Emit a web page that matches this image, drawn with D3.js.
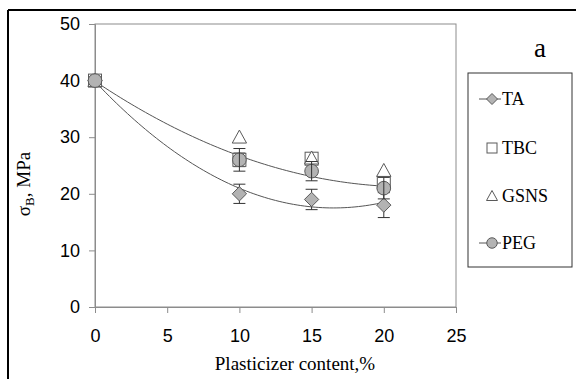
<!DOCTYPE html>
<html>
<head>
<meta charset="utf-8">
<script src="https://cdn.jsdelivr.net/npm/d3@7"></script>
<style>
  body { margin: 0; background: #fff; }
  svg { display: block; }
  .tick text { font-family: "Liberation Sans", Arial, sans-serif; font-size: 18px; fill: #000; }
</style>
</head>
<body>
<svg id="chart" width="576" height="379"></svg>
<script>
// plasticizer content, %
const content = [0, 10, 15, 20];
// tensile strength, MPa
const ta   = [40, 20, 19, 18];
const tbc  = [40, 26, 26.2, 22];
const gsns = [40, 30, 26.3, 24.1];
const peg  = [40, 26, 24, 21];
// error bars (+/-)
const taErr  = [0, 1.7, 1.8, 2.2];
const tbcErr = [0, 1.2, 0, 1];
const pegErr = [0, 2, 1.7, 1.9];
const xTicks = [0, 5, 10, 15, 20, 25];
const yTicks = [0, 10, 20, 30, 40, 50];
const seriesNames = ["TA", "TBC", "GSNS", "PEG"];

const serif = "'Liberation Serif', 'Times New Roman', Times, serif";

const svg = d3.select("#chart"),
      margin = {top: 24, right: 120, bottom: 72, left: 95},
      width = +svg.attr("width") - margin.left - margin.right,
      height = +svg.attr("height") - margin.top - margin.bottom;

const x = d3.scaleLinear().domain([0, 25]).range([0, width]),
      y = d3.scaleLinear().domain([0, 50]).range([height, 0]);

const stroke = "#5a5a5a", fill = "#b3b3b3", axisCol = "#8c8c8c";

// outer frame (top and left edges show)
svg.append("line").attr("x1", 8).attr("x2", 576).attr("y1", 10).attr("y2", 10)
   .attr("stroke", "#000").attr("stroke-width", 2);
svg.append("line").attr("x1", 8).attr("x2", 8).attr("y1", 10).attr("y2", 379)
   .attr("stroke", "#000").attr("stroke-width", 2);

const g = svg.append("g").attr("transform", `translate(${margin.left},${margin.top})`);

// plot box
g.append("rect").attr("width", width).attr("height", height)
 .attr("fill", "none").attr("stroke", axisCol).attr("stroke-width", 1);

const xAxis = g.append("g").attr("transform", `translate(0,${height})`)
  .call(d3.axisBottom(x).tickValues(xTicks).tickSize(6).tickPadding(16));
const yAxis = g.append("g")
  .call(d3.axisLeft(y).tickValues(yTicks).tickSize(6).tickPadding(9));
[xAxis, yAxis].forEach(a => {
  a.select(".domain").attr("stroke", axisCol);
  a.selectAll(".tick line").attr("stroke", axisCol);
});

// quadratic least-squares trend line from the data
function quadFit(xs, ys) {
  let s = [0, 0, 0, 0, 0], t = [0, 0, 0];
  xs.forEach((xv, i) => {
    for (let k = 0; k < 5; k++) s[k] += Math.pow(xv, k);
    for (let k = 0; k < 3; k++) t[k] += Math.pow(xv, k) * ys[i];
  });
  const M = [[s[0], s[1], s[2], t[0]], [s[1], s[2], s[3], t[1]], [s[2], s[3], s[4], t[2]]];
  for (let i = 0; i < 3; i++) {
    for (let j = i + 1; j < 3; j++) {
      const f = M[j][i] / M[i][i];
      for (let k = i; k < 4; k++) M[j][k] -= f * M[i][k];
    }
  }
  const c = [0, 0, 0];
  for (let i = 2; i >= 0; i--) {
    let v = M[i][3];
    for (let k = i + 1; k < 3; k++) v -= M[i][k] * c[k];
    c[i] = v / M[i][i];
  }
  return xv => c[0] + c[1] * xv + c[2] * xv * xv;
}

const line = d3.line().x(d => x(d[0])).y(d => y(d[1]));
[ta, peg].forEach(vals => {
  const f = quadFit(content, vals);
  const pts = d3.range(0, 20.01, 0.25).map(v => [v, f(v)]);
  g.append("path").datum(pts).attr("d", line)
   .attr("fill", "none").attr("stroke", "#555").attr("stroke-width", 1);
});

// error bars
function errorBars(vals, errs) {
  content.forEach((c, i) => {
    if (!errs[i]) return;
    const cx = x(c), y1 = y(vals[i] + errs[i]), y2 = y(vals[i] - errs[i]);
    const eb = g.append("g").attr("stroke", "#333").attr("stroke-width", 1);
    eb.append("line").attr("x1", cx).attr("x2", cx).attr("y1", y1).attr("y2", y2);
    eb.append("line").attr("x1", cx - 6).attr("x2", cx + 6).attr("y1", y1).attr("y2", y1);
    eb.append("line").attr("x1", cx - 6).attr("x2", cx + 6).attr("y1", y2).attr("y2", y2);
  });
}

function marker(sel, type, size) {
  const h = size / 2;
  if (type === "TA") {
    sel.append("path").attr("d", `M0,${-h * 1.1}L${h * 1.1},0L0,${h * 1.1}L${-h * 1.1},0Z`)
       .attr("fill", fill).attr("stroke", stroke).attr("stroke-width", 1);
  } else if (type === "TBC") {
    sel.append("rect").attr("x", -h).attr("y", -h).attr("width", size).attr("height", size)
       .attr("fill", "#fff").attr("stroke", stroke).attr("stroke-width", 1);
  } else if (type === "GSNS") {
    sel.append("path").attr("d", `M0,${-h * 1.1}L${h * 1.1},${h * 0.9}L${-h * 1.1},${h * 0.9}Z`)
       .attr("fill", "#fff").attr("stroke", stroke).attr("stroke-width", 1);
  } else {
    sel.append("circle").attr("r", h * 1.05)
       .attr("fill", fill).attr("stroke", stroke).attr("stroke-width", 1);
  }
}

const seriesVals = {TA: ta, TBC: tbc, GSNS: gsns, PEG: peg};
errorBars(ta, taErr);
errorBars(tbc, tbcErr);
seriesNames.forEach(name => {
  seriesVals[name].forEach((v, i) => {
    marker(g.append("g").attr("transform", `translate(${x(content[i])},${y(v)})`), name, 13);
  });
});
errorBars(peg, pegErr);

// axis titles
svg.append("text").attr("x", 295).attr("y", 370)
   .attr("font-family", serif).attr("font-size", 19)
   .attr("text-anchor", "middle").text("Plasticizer content,%");
const yt = svg.append("text")
   .attr("font-family", serif).attr("font-size", 19)
   .attr("transform", "translate(30,184) rotate(-90)")
   .attr("text-anchor", "middle");
yt.append("tspan").text("σ");
yt.append("tspan").attr("dy", 4).attr("font-size", 13).text("B");
yt.append("tspan").attr("dy", -4).text(", MPa");

// panel label
svg.append("text").attr("x", 540).attr("y", 57)
   .attr("font-family", serif).attr("font-size", 27)
   .attr("text-anchor", "middle").text("a");

// legend
const lg = svg.append("g");
lg.append("rect").attr("x", 468).attr("y", 73).attr("width", 104).attr("height", 194)
  .attr("fill", "#fff").attr("stroke", "#333").attr("stroke-width", 1);
const legendY = [99, 148, 196, 243];
seriesNames.forEach((name, i) => {
  const row = lg.append("g").attr("transform", `translate(492,${legendY[i]})`);
  if (name === "TA" || name === "PEG") {
    row.append("line").attr("x1", -13).attr("x2", 9).attr("stroke", "#555").attr("stroke-width", 1);
  }
  marker(row, name, 10);
  row.append("text").attr("x", 10).attr("dy", "0.35em")
     .attr("font-family", serif).attr("font-size", 18).text(name);
});
</script>
</body>
</html>
